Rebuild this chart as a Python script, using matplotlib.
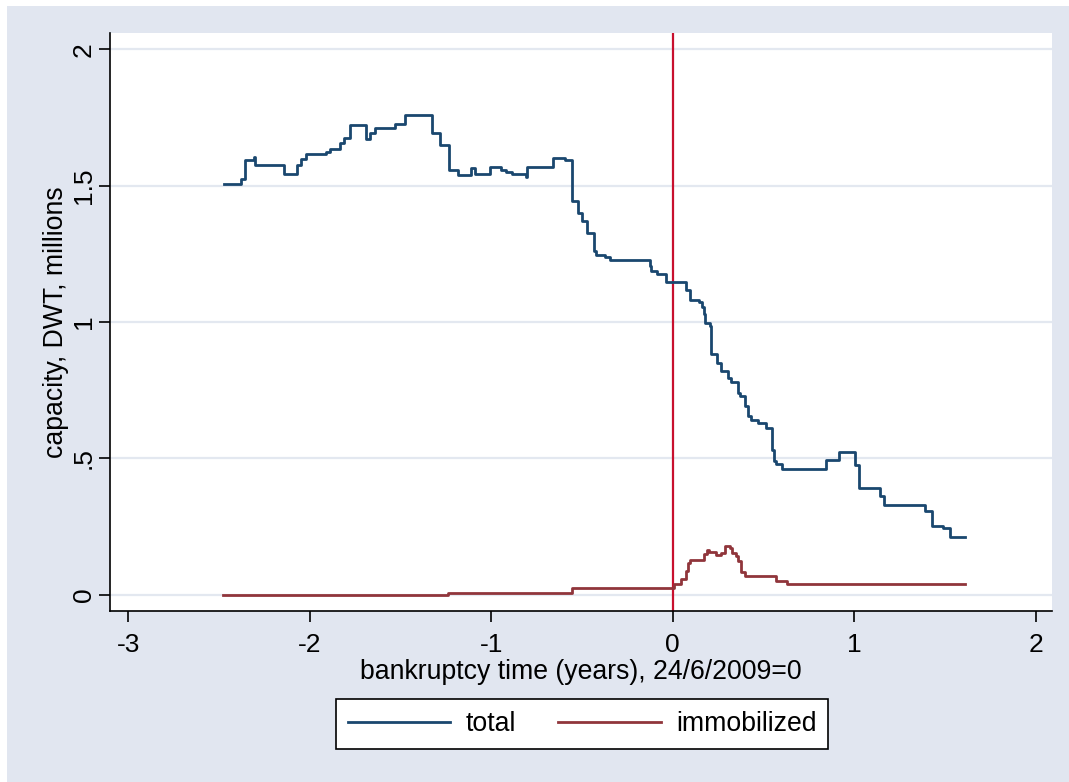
import matplotlib
matplotlib.use('Agg')
import matplotlib.pyplot as plt
import matplotlib.patches as patches

plt.rcParams['font.family'] = ['Liberation Sans', 'DejaVu Sans']

# total capacity (step series, value holds until next time)
total_t = [-2.474, -2.378, -2.358, -2.307, -2.300, -2.139, -2.070, -2.046, -2.020,
           -1.908, -1.890, -1.835, -1.809, -1.780, -1.688, -1.666, -1.640, -1.528,
           -1.473, -1.324, -1.284, -1.232, -1.183, -1.113, -1.087, -1.008, -0.948,
           -0.920, -0.885, -0.806, -0.800, -0.659, -0.591, -0.553, -0.522, -0.498,
           -0.472, -0.433, -0.420, -0.371, -0.347, -0.127, -0.120, -0.086, -0.039,
           0.072, 0.097, 0.145, 0.160, 0.171, 0.180, 0.205, 0.212, 0.244, 0.268,
           0.305, 0.323, 0.360, 0.369, 0.397, 0.415, 0.434, 0.470, 0.516, 0.547,
           0.558, 0.571, 0.604, 0.847, 0.915, 1.006, 1.025, 1.140, 1.163, 1.392,
           1.431, 1.490, 1.530, 1.609]
total_v = [1.505, 1.525, 1.594, 1.605, 1.577, 1.542, 1.576, 1.599, 1.618,
           1.623, 1.634, 1.656, 1.676, 1.722, 1.673, 1.694, 1.710, 1.728,
           1.761, 1.694, 1.651, 1.556, 1.539, 1.565, 1.544, 1.568, 1.556,
           1.550, 1.543, 1.531, 1.568, 1.600, 1.593, 1.443, 1.401, 1.370,
           1.325, 1.260, 1.247, 1.238, 1.229, 1.205, 1.187, 1.177, 1.148,
           1.117, 1.080, 1.073, 1.054, 1.030, 0.995, 0.985, 0.881, 0.848, 0.822,
           0.795, 0.779, 0.740, 0.728, 0.691, 0.654, 0.640, 0.630, 0.612, 0.532,
           0.489, 0.481, 0.462, 0.495, 0.524, 0.475, 0.392, 0.361, 0.327, 0.308,
           0.251, 0.245, 0.210, 0.210]

# immobilized capacity
immob_t = [-2.480, -1.237, -0.555, 0.008, 0.048, 0.075, 0.084, 0.094, 0.173,
           0.191, 0.198, 0.241, 0.268, 0.290, 0.314, 0.327, 0.347, 0.360,
           0.378, 0.397, 0.567, 0.632, 1.609]
immob_v = [0.000, 0.006, 0.024, 0.040, 0.058, 0.086, 0.116, 0.128, 0.149,
           0.165, 0.156, 0.144, 0.151, 0.177, 0.170, 0.153, 0.143, 0.122,
           0.083, 0.067, 0.051, 0.040, 0.040]

xticks = [-3, -2, -1, 0, 1, 2]
yticks = [0, 0.5, 1, 1.5, 2]
ytick_labels = ['0', '.5', '1', '1.5', '2']

W, H = 1069, 782
fig = plt.figure(figsize=(W / 100, H / 100), dpi=100)
fig.set_facecolor('white')
bg = patches.Rectangle((7 / W, 0), 1 - 7 / W, 1 - 6 / H, transform=fig.transFigure,
                       facecolor='#E1E6F0', edgecolor='none', zorder=-10)
fig.patches.append(bg)

ax = fig.add_axes([110 / W, 1 - 611 / H, (1052 - 110) / W, (611 - 33) / H])
ax.set_facecolor('white')

for yv in yticks:
    ax.axhline(yv, color='#E3E8F0', lw=1.6, zorder=1)

ax.axvline(0, color='#C8102E', lw=1.6, zorder=2)

ax.step(total_t, total_v, where='post', color='#1A476F', lw=2.0, label='total', zorder=3)
ax.step(immob_t, immob_v, where='post', color='#90353B', lw=2.0, label='immobilized', zorder=3)

ax.set_xlim(-3.10, 2.09)
ax.set_ylim(-0.06, 2.06)

ax.set_xticks(xticks)
ax.set_xticklabels([str(v) for v in xticks])
ax.set_yticks(yticks)
ax.set_yticklabels(ytick_labels, rotation=90, va='center')

ax.tick_params(axis='both', direction='out', length=8, width=1.2, labelsize=19, color='black')
ax.tick_params(axis='x', pad=8)
ax.tick_params(axis='y', pad=2)

for s in ['top', 'right']:
    ax.spines[s].set_visible(False)
for s in ['left', 'bottom']:
    ax.spines[s].set_linewidth(1.2)

ax.set_xlabel('bankruptcy time (years), 24/6/2009=0', fontsize=19.2, labelpad=1)
ax.set_ylabel('capacity, DWT, millions', fontsize=19.2, labelpad=2)

leg = fig.legend(loc='center', bbox_to_anchor=(582 / W, 1 - 724 / H), ncol=2,
                 fontsize=19.2, frameon=True, fancybox=False, edgecolor='black',
                 facecolor='white', framealpha=1, handlelength=3.85, columnspacing=1.6,
                 handletextpad=0.56, borderpad=0.45, borderaxespad=0)
leg.get_frame().set_linewidth(1.2)

fig.savefig('out.png', dpi=100, facecolor=fig.get_facecolor())
